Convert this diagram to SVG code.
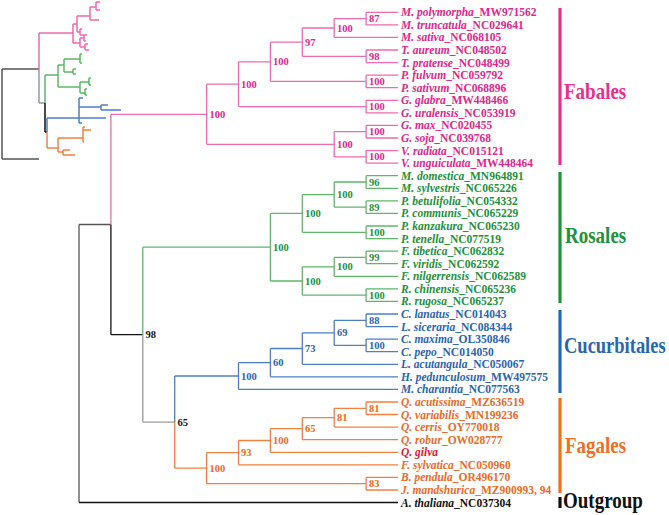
<svg xmlns="http://www.w3.org/2000/svg" width="669" height="515" viewBox="0 0 669 515" font-family="'Liberation Serif', 'Times New Roman', serif">
<style>
text{font-family:'Liberation Serif','Times New Roman',serif}
.lf{font-size:11.5px;font-weight:bold}
.lf .i{font-style:italic}
.bs{font-size:10.5px;font-weight:bold}
.cl{font-size:19px;font-weight:bold}
.c{fill:none;stroke-width:1.3}
.fab{stroke:#ef6aae}.ros{stroke:#5db86a}.cuc{stroke:#4b80c6}.fag{stroke:#f2813e}
.blk{stroke:#111}.gry{stroke:#555}.lgr{stroke:#9a9a9a}
.tfab{fill:#e2268a}.tros{fill:#23913b}.tcuc{fill:#2a64b0}.tfag{fill:#ee6a1f}.tblk{fill:#111}
.t{fill:none;stroke-width:1.5}
.bar{stroke-width:3.2}
</style>
<rect width="669" height="515" fill="#fff"/>

<g id="thumbnail">
<path class="t gry" d="M2 69V159M2 69H39M2 159H39"/>
<path class="t fab" d="M39 33V69M39 33H73M73 24V43M73 24H77M77 16V32M77 16H90M90 7V20M90 7H96M96 2V10M96 2H100M96 10H100M90 20H99M77 32H80M80 29V35M80 29H82M80 35H84M73 43H80M80 38V47M80 38H84M84 35V41M84 35H87M84 41H86M80 47H85M85 44V50M85 44H88M85 50H89"/>
<path class="t lgr" d="M39 69V103M39 103H45"/>
<path class="t ros" d="M45 75V103M45 75H58M58 65V87M58 65H64M64 59V72M64 59H80M80 54V63M80 54H82M80 63H82M64 72H73M73 69V74M73 69H76M73 74H76M58 87H80M80 82V93M80 82H89M89 78V85M89 78H91M89 85H91M80 93H85M85 89V95M85 89H87M85 95H87"/>
<path class="t blk" d="M45 103V132M45 132H47"/>
<path class="t cuc" d="M47 118V132M47 118H79M79 98V123M79 98H83M79 107H101M101 105V110M101 105H108M101 110H121M79 118H106M79 123H82"/>
<path class="t fag" d="M47 132V148M47 148H58M58 138V152M58 138H83M83 127V142M83 127H85M83 130H91M83 142H84M58 152H63M63 150V155M63 150H70M63 155H75"/>
</g>

<g id="connectors">
<path class="c gry" d="M79 224.5V502.5M79 224.5H110.9"/>
<path class="c blk" d="M79 502.5H398M110.9 224.5V334.7M110.9 334.7H142.8"/>
<path class="c lgr" d="M142.8 334.7V422.1M142.8 422.1H174.7"/>
<path class="c fab" d="M110.9 114.3V224.5M110.9 114.3H206.6M206.6 84.2V144.3M206.6 84.2H238.5M206.6 144.3H334.2M238.5 61.8V106.6M238.5 61.8H270.4M238.5 106.6H366.1M270.4 42.2V81.4M270.4 42.2H302.3M270.4 81.4H366.1M302.3 28V56.3M302.3 28H334.2M302.3 56.3H366.1M334.2 18.6V37.4M334.2 18.6H366.1M334.2 37.4H398M334.2 131.7V156.9M334.2 131.7H366.1M334.2 156.9H366.1M366.1 12.3V24.9M366.1 12.3H398M366.1 24.9H398M366.1 50V62.6M366.1 50H398M366.1 62.6H398M366.1 75.2V87.7M366.1 75.2H398M366.1 87.7H398M366.1 100.3V112.9M366.1 100.3H398M366.1 112.9H398M366.1 125.4V138M366.1 125.4H398M366.1 138H398M366.1 150.6V163.1M366.1 150.6H398M366.1 163.1H398"/>
<path class="c ros" d="M142.8 247.2V334.7M142.8 247.2H270.4M270.4 213.4V281M270.4 213.4H302.3M270.4 281H302.3M302.3 194.6V232.3M302.3 194.6H334.2M302.3 232.3H366.1M334.2 182V207.1M334.2 182H366.1M334.2 207.1H366.1M302.3 266.8V295.1M302.3 266.8H334.2M302.3 295.1H366.1M334.2 257.4V276.3M334.2 257.4H366.1M334.2 276.3H398M366.1 175.7V188.3M366.1 175.7H398M366.1 188.3H398M366.1 200.9V213.4M366.1 200.9H398M366.1 213.4H398M366.1 226V238.6M366.1 226H398M366.1 238.6H398M366.1 251.1V263.7M366.1 251.1H398M366.1 263.7H398M366.1 288.8V301.4M366.1 288.8H398M366.1 301.4H398"/>
<path class="c cuc" d="M174.7 376V422.1M174.7 376H238.5M238.5 362.7V389.4M238.5 362.7H270.4M238.5 389.4H398M270.4 348.5V376.8M270.4 348.5H302.3M270.4 376.8H398M302.3 332.8V364.3M302.3 332.8H334.2M302.3 364.3H398M334.2 320.3V345.4M334.2 320.3H366.1M334.2 345.4H366.1M366.1 314V326.6M366.1 314H398M366.1 326.6H398M366.1 339.1V351.7M366.1 339.1H398M366.1 351.7H398"/>
<path class="c fag" d="M174.7 422.1V468.2M174.7 468.2H206.6M206.6 452.6V483.7M206.6 452.6H238.5M206.6 483.7H366.1M238.5 440.5V464.8M238.5 440.5H270.4M238.5 464.8H398M270.4 428.7V452.3M270.4 428.7H302.3M270.4 452.3H398M302.3 417.7V439.7M302.3 417.7H334.2M302.3 439.7H398M334.2 408.3V427.1M334.2 408.3H366.1M334.2 427.1H398M366.1 402V414.5M366.1 402H398M366.1 414.5H398M366.1 477.4V490M366.1 477.4H398M366.1 490H398"/>
</g>

<g id="support" class="bs" font-family="'Liberation Serif', serif">
<g id="n-fab" class="tfab">
<text x="369" y="22.1">87</text><text x="337" y="31.5">100</text><text x="305" y="45.7">97</text><text x="369" y="59.8">98</text><text x="273" y="65.3">100</text><text x="369" y="84.9">100</text><text x="241" y="87.7">100</text><text x="369" y="110.1">100</text><text x="209.5" y="117.8">100</text><text x="369" y="135.2">100</text><text x="337" y="147.8">100</text><text x="369" y="160.4">100</text>
</g>
<g id="n-ros" class="tros">
<text x="369" y="185.5">96</text><text x="337" y="198.1">100</text><text x="369" y="210.6">89</text><text x="305" y="216.9">100</text><text x="369" y="235.8">100</text><text x="273" y="250.7">100</text><text x="369" y="260.9">99</text><text x="337" y="270.3">100</text><text x="305" y="284.5">100</text><text x="369" y="298.6">100</text>
</g>
<g id="n-cuc" class="tcuc">
<text x="369" y="323.8">88</text><text x="337" y="336.3">69</text><text x="369" y="348.9">100</text><text x="305" y="352">73</text><text x="273" y="366.2">60</text><text x="241" y="379.5">100</text>
</g>
<g id="n-fag" class="tfag">
<text x="369" y="411.8">81</text><text x="337" y="421.2">81</text><text x="305" y="432.2">65</text><text x="273" y="444">100</text><text x="241" y="456.1">93</text><text x="209.5" y="471.7">100</text><text x="369" y="487.2">83</text>
</g>
<g id="n-back" class="tblk">
<text x="145.5" y="338.2">98</text><text x="177.5" y="425.6">65</text>
</g>
</g>

<g id="leaves" class="lf" font-family="'Liberation Serif', serif">
<g id="fab-leaves" class="tfab">
<text x="401" y="16.3"><tspan class="i">M. polymorpha</tspan>_MW971562</text>
<text x="401" y="28.9"><tspan class="i">M. truncatula</tspan>_NC029641</text>
<text x="401" y="41.4"><tspan class="i">M. sativa</tspan>_NC068105</text>
<text x="401" y="54"><tspan class="i">T. aureum</tspan>_NC048502</text>
<text x="401" y="66.6"><tspan class="i">T. pratense</tspan>_NC048499</text>
<text x="401" y="79.2"><tspan class="i">P. fulvum</tspan>_NC059792</text>
<text x="401" y="91.7"><tspan class="i">P. sativum</tspan>_NC068896</text>
<text x="401" y="104.3"><tspan class="i">G. glabra</tspan>_MW448466</text>
<text x="401" y="116.9"><tspan class="i">G. uralensis</tspan>_NC053919</text>
<text x="401" y="129.4"><tspan class="i">G. max</tspan>_NC020455</text>
<text x="401" y="142"><tspan class="i">G. soja</tspan>_NC039768</text>
<text x="401" y="154.6"><tspan class="i">V. radiata</tspan>_NC015121</text>
<text x="401" y="167.1"><tspan class="i">V. unguiculata</tspan>_MW448464</text>
</g>
<g id="ros-leaves" class="tros">
<text x="401" y="179.7"><tspan class="i">M. domestica</tspan>_MN964891</text>
<text x="401" y="192.3"><tspan class="i">M. sylvestris</tspan>_NC065226</text>
<text x="401" y="204.9"><tspan class="i">P. betulifolia</tspan>_NC054332</text>
<text x="401" y="217.4"><tspan class="i">P. communis</tspan>_NC065229</text>
<text x="401" y="230"><tspan class="i">P. kanzakura</tspan>_NC065230</text>
<text x="401" y="242.6"><tspan class="i">P. tenella</tspan>_NC077519</text>
<text x="401" y="255.1"><tspan class="i">F. tibetica</tspan>_NC062832</text>
<text x="401" y="267.7"><tspan class="i">F. viridis</tspan>_NC062592</text>
<text x="401" y="280.3"><tspan class="i">F. nilgerrensis</tspan>_NC062589</text>
<text x="401" y="292.8"><tspan class="i">R. chinensis</tspan>_NC065236</text>
<text x="401" y="305.4"><tspan class="i">R. rugosa</tspan>_NC065237</text>
</g>
<g id="cuc-leaves" class="tcuc">
<text x="401" y="318"><tspan class="i">C. lanatus</tspan>_NC014043</text>
<text x="401" y="330.6"><tspan class="i">L. siceraria</tspan>_NC084344</text>
<text x="401" y="343.1"><tspan class="i">C. maxima</tspan>_OL350846</text>
<text x="401" y="355.7"><tspan class="i">C. pepo</tspan>_NC014050</text>
<text x="401" y="368.3"><tspan class="i">L. acutangula</tspan>_NC050067</text>
<text x="401" y="380.8"><tspan class="i">H. pedunculosum</tspan>_MW497575</text>
<text x="401" y="393.4"><tspan class="i">M. charantia</tspan>_NC077563</text>
</g>
<g id="fag-leaves" class="tfag">
<text x="401" y="406"><tspan class="i">Q. acutissima</tspan>_MZ636519</text>
<text x="401" y="418.5"><tspan class="i">Q. variabilis</tspan>_MN199236</text>
<text x="401" y="431.1"><tspan class="i">Q. cerris</tspan>_OY770018</text>
<text x="401" y="443.7"><tspan class="i">Q. robur</tspan>_OW028777</text>
<text x="401" y="456.3" fill="#e8162c"><tspan class="i">Q. gilva</tspan></text>
<text x="401" y="468.8"><tspan class="i">F. sylvatica</tspan>_NC050960</text>
<text x="401" y="481.4"><tspan class="i">B. pendula</tspan>_OR496170</text>
<text x="401" y="494"><tspan class="i">J. mandshurica</tspan>_MZ900993, 94</text>
</g>
<g id="out-leaf" class="tblk">
<text x="401" y="506.5"><tspan class="i">A. thaliana</tspan>_NC037304</text>
</g>
</g>

<g id="clades" class="cl" font-family="'Liberation Serif', serif">
<g id="Fabales"><path class="bar" stroke="#e8318a" d="M560 8V165"/><text transform="translate(564 99) scale(1 1.25)" fill="#e8318a">Fabales</text></g>
<g id="Rosales"><path class="bar" stroke="#22913a" d="M560 172V303"/><text transform="translate(565 243) scale(1 1.25)" fill="#22913a">Rosales</text></g>
<g id="Cucurbitales"><path class="bar" stroke="#2766b0" d="M560 310V393"/><text transform="translate(564 353) scale(1 1.27)" fill="#2766b0" style="font-size:18.5px">Cucurbitales</text></g>
<g id="Fagales"><path class="bar" stroke="#ee6f23" d="M560 398V493"/><text transform="translate(565 453) scale(1 1.25)" fill="#ee6f23">Fagales</text></g>
<g id="Outgroup"><path class="bar" stroke="#111" d="M560 497V508"/><text transform="translate(563 508) scale(1 1.25)" fill="#111">Outgroup</text></g>
</g>
</svg>
